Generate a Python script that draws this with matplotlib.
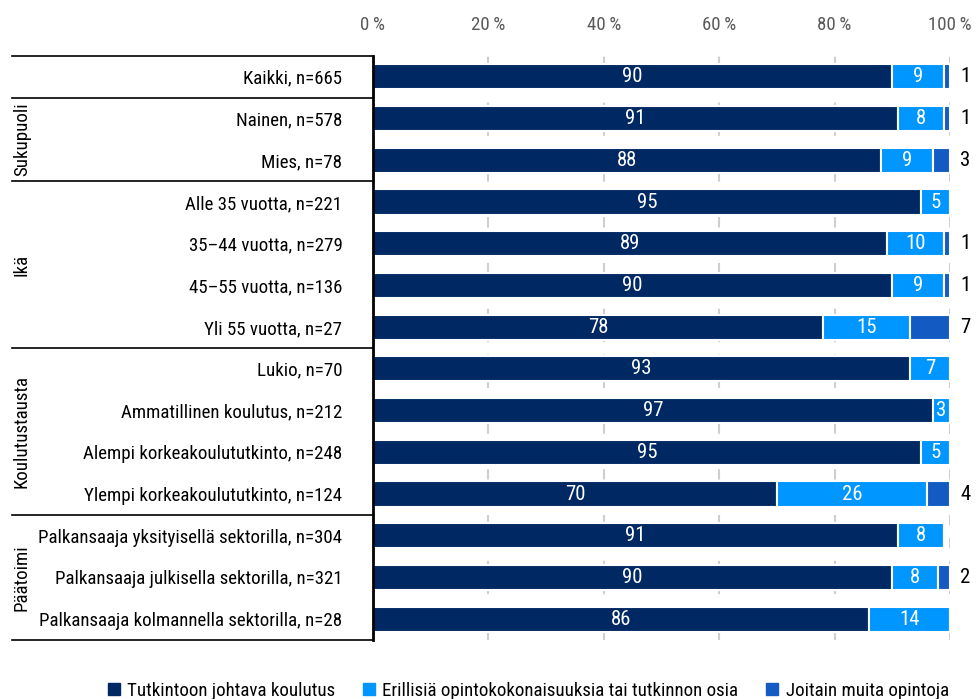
import matplotlib
matplotlib.use("Agg")
import matplotlib.pyplot as plt
from matplotlib import font_manager
import matplotlib.transforms as mtransforms
from matplotlib.lines import Line2D
import numpy as np

names = {f.name for f in font_manager.fontManager.ttflist}
if "Liberation Sans Narrow" in names:
    FONT, STRETCH = "Liberation Sans Narrow", "normal"
elif "Roboto Condensed" in names:
    FONT, STRETCH = "Roboto Condensed", "normal"
elif "Open Sans Condensed" in names:
    FONT, STRETCH = "Open Sans Condensed", "normal"
else:
    FONT, STRETCH = "DejaVu Sans", "condensed"
plt.rcParams['font.family'] = [FONT, 'DejaVu Sans']
plt.rcParams['font.stretch'] = STRETCH

categories = [
    "Kaikki, n=665",
    "Nainen, n=578",
    "Mies, n=78",
    "Alle 35 vuotta, n=221",
    "35–44 vuotta, n=279",
    "45–55 vuotta, n=136",
    "Yli 55 vuotta, n=27",
    "Lukio, n=70",
    "Ammatillinen koulutus, n=212",
    "Alempi korkeakoulututkinto, n=248",
    "Ylempi korkeakoulututkinto, n=124",
    "Palkansaaja yksityisellä sektorilla, n=304",
    "Palkansaaja julkisella sektorilla, n=321",
    "Palkansaaja kolmannella sektorilla, n=28",
]
tutkinto = [90, 91, 88, 95, 89, 90, 78, 93, 97, 95, 70, 91, 90, 86]
erillisia = [9, 8, 9, 5, 10, 9, 15, 7, 3, 5, 26, 8, 8, 14]
muita = [1, 1, 3, 0, 1, 1, 7, 0, 0, 0, 4, 0, 2, 0]
series_names = ["Tutkintoon johtava koulutus",
                "Erillisiä opintokokonaisuuksia tai tutkinnon osia",
                "Joitain muita opintoja"]
groups = [("Sukupuoli", 1, 2), ("Ikä", 3, 6), ("Koulutustausta", 7, 10), ("Päätoimi", 11, 13)]
xticks = [0, 20, 40, 60, 80, 100]

colors = ["#002862", "#0096FF", "#135BC2"]

fig = plt.figure(figsize=(9.77, 6.99), dpi=100)

# fit font size so the longest label is ~305 px wide like the reference
fig.canvas.draw()
renderer = fig.canvas.get_renderer()
probe = fig.text(0, 0, categories[-1], fontsize=14)
w = probe.get_window_extent(renderer).width
probe.remove()
FS = min(14.5, 14 * 305 / w)
BFS = FS * 1.1

ax = fig.add_axes([373/977, 1-640/699, (950-373)/977, (640-56)/699])

y = np.arange(len(categories))
h = 0.6
left = np.zeros(len(categories))
for vals, col in zip([tutkinto, erillisia, muita], colors):
    vals = np.array(vals, dtype=float)
    ax.barh(y, vals, left=left, height=h, color=col, edgecolor="white", linewidth=1.5, zorder=3)
    left = left + vals

for i in range(len(categories)):
    ax.text(tutkinto[i]/2, y[i], str(tutkinto[i]), ha="center", va="center",
            color="white", fontsize=BFS, zorder=4)
    ax.text(tutkinto[i] + erillisia[i]/2, y[i], str(erillisia[i]), ha="center", va="center",
            color="white", fontsize=BFS, zorder=4)
    if muita[i] > 0:
        ax.text(101.8, y[i], str(muita[i]), ha="left", va="center", color="black", fontsize=BFS)

ax.set_xlim(0, 100)
ax.set_ylim(len(categories) - 0.5, -0.5)
ax.set_yticks(y)
ax.set_yticklabels(categories, fontsize=FS)
ax.tick_params(axis="y", length=0, pad=22)
ax.set_xticks(xticks)
ax.set_xticklabels([f"{t}\u2009%" for t in xticks], fontsize=FS, color="#5a5a5a")
ax.xaxis.tick_top()
ax.tick_params(axis="x", length=0, pad=16)
for s in ["top", "right", "bottom"]:
    ax.spines[s].set_visible(False)
ax.spines["left"].set_linewidth(2)
ax.spines["left"].set_color("black")
ax.spines["left"].set_zorder(5)

for t in xticks[1:]:
    ax.axvline(t, color="#cfcfcf", linewidth=1.5, linestyle=(0, (5, 6)), zorder=1)

trans = mtransforms.blended_transform_factory(fig.transFigure, ax.transData)
for b in [-0.5, 0.5, 2.5, 6.5, 10.5, 13.5]:
    ax.add_line(Line2D([12/977, 373/977], [b, b], transform=trans, color="black",
                       linewidth=1.2, clip_on=False))
for name, a, bnd in groups:
    ax.text(22/977, (a + bnd)/2, name, transform=trans, rotation=90, ha="center",
            va="center", fontsize=FS)

handles = [Line2D([], [], marker="s", linestyle="none", markersize=8, color=c) for c in colors]
fig.legend(handles, series_names, loc="center", bbox_to_anchor=(0.539, 0.012), ncol=3,
           frameon=False, fontsize=FS, handletextpad=0.2, columnspacing=1.3,
           handlelength=1.0, borderpad=0.2)

fig.savefig("out.png", dpi=100)
